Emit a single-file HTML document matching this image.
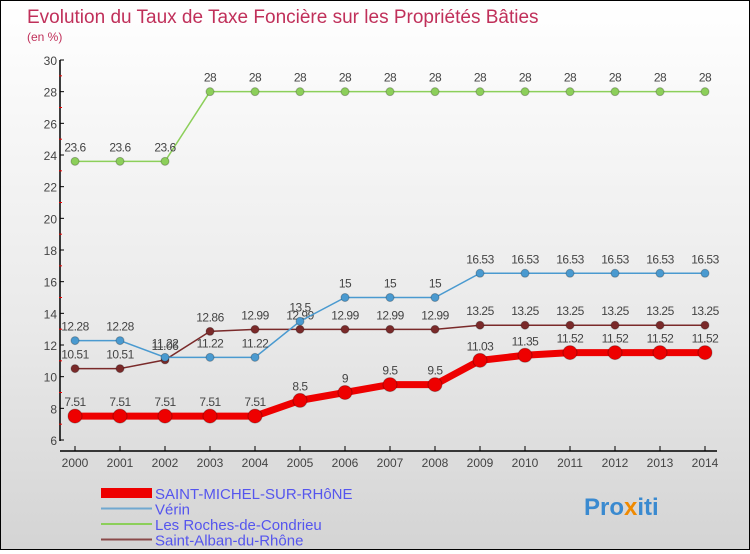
<!DOCTYPE html>
<html><head><meta charset="utf-8"><style>
html,body{margin:0;padding:0}
body{width:750px;height:550px;overflow:hidden;font-family:"Liberation Sans",sans-serif}
#wrap{position:relative;width:748px;height:548px;border:1px solid #000;background:linear-gradient(#ffffff,#e9e9e9 60%,#d4d4d4)}
</style></head><body>
<div id="wrap">
<svg id="chart" width="748" height="548" font-family="Liberation Sans, sans-serif"></svg>
</div>
<script>
const years=[2000,2001,2002,2003,2004,2005,2006,2007,2008,2009,2010,2011,2012,2013,2014];
const saintMichel=[7.51,7.51,7.51,7.51,7.51,8.5,9,9.5,9.5,11.03,11.35,11.52,11.52,11.52,11.52];
const verin=[12.28,12.28,11.22,11.22,11.22,13.5,15,15,15,16.53,16.53,16.53,16.53,16.53,16.53];
const roches=[23.6,23.6,23.6,28,28,28,28,28,28,28,28,28,28,28,28];
const saintAlban=[10.51,10.51,11.06,12.86,12.99,12.99,12.99,12.99,12.99,13.25,13.25,13.25,13.25,13.25,13.25];
const yTicks=[6,8,10,12,14,16,18,20,22,24,26,28,30];
const seriesNames=["SAINT-MICHEL-SUR-RHôNE","Vérin","Les Roches-de-Condrieu","Saint-Alban-du-Rhône"];
const NS="http://www.w3.org/2000/svg";
const svg=document.getElementById('chart');
const X=i=>74+i*45;
const Y=v=>439-(v-6)*(380/24);
function el(t,a,p){const e=document.createElementNS(NS,t);for(const k in a)e.setAttribute(k,a[k]);(p||svg).appendChild(e);return e;}
let t=el('text',{x:26,y:22,'font-size':19,fill:'#c0305a'});t.textContent='Evolution du Taux de Taxe Foncière sur les Propriétés Bâties';


t=el('text',{x:26,y:40,'font-size':12,fill:'#c0305a'});t.textContent='(en %)';


let ax=el('line',{x1:59,y1:59,x2:59,y2:440,stroke:'#000','stroke-width':1.5});


ax=el('line',{x1:59,y1:450,x2:716,y2:450,stroke:'#000','stroke-width':1.5});


yTicks.forEach(v=>{
 el('line',{x1:59,y1:Y(v),x2:63,y2:Y(v),stroke:'#000'});
 if(v<30) el('line',{x1:58,y1:Y(v+1),x2:61,y2:Y(v+1),stroke:'#e00'});
 const tt=el('text',{x:56,y:Y(v)+5,'font-size':12,fill:'#444','text-anchor':'end'});tt.textContent=v;
 
 
});
years.forEach((yr,i)=>{
 el('line',{x1:X(i),y1:445,x2:X(i),y2:450,stroke:'#000'});
 const tt=el('text',{x:X(i),y:466,'font-size':12,fill:'#444','text-anchor':'middle'});tt.textContent=yr;
 
 
});
function series(data,color,w,r,name){
 const g=el('g',{});
 
 
 el('polyline',{points:data.map((v,i)=>X(i)+','+Y(v)).join(' '),fill:'none',stroke:color,'stroke-width':w},g);
 data.forEach((v,i)=>{
  const c=el('circle',{cx:X(i),cy:Y(v),r:r,fill:color,stroke:'rgba(0,0,0,0.25)'},g);
  
  
  const tt=el('text',{x:X(i),y:Y(v)-10,'font-size':12,fill:'#444','text-anchor':'middle','letter-spacing':'-0.5'},g);tt.textContent=v;
  
  
 });
}
series(roches,'#8ccf5a',1.5,4,'series-les-roches');
series(saintAlban,'#7a2a2a',1.5,4,'series-saint-alban');
series(verin,'#4a9ad0',1.5,4,'series-verin');
series(saintMichel,'#ee0000',7,7,'series-saint-michel');
const legColors=['#ee0000','#70a8d0','#8ccf5a','#8a4a4a'];
const legW=[10,2,2,2];
seriesNames.forEach((n,i)=>{
 const g=el('g',{});
 
 
 const yy=492+i*15.5;
 el('line',{x1:100,y1:yy,x2:151,y2:yy,stroke:legColors[i],'stroke-width':legW[i]},g);
 const tt=el('text',{x:154,y:yy+6,'font-size':15,fill:'#5555ee'},g);tt.textContent=n;
});
const lg=el('text',{x:583,y:514,'font-size':24,'font-weight':'bold',fill:'#3a8ad0'});


lg.innerHTML='<tspan fill="#3a8ad0">Pro</tspan><tspan fill="#f08a00">x</tspan><tspan fill="#3a8ad0">iti</tspan>';
</script>
</body></html>
